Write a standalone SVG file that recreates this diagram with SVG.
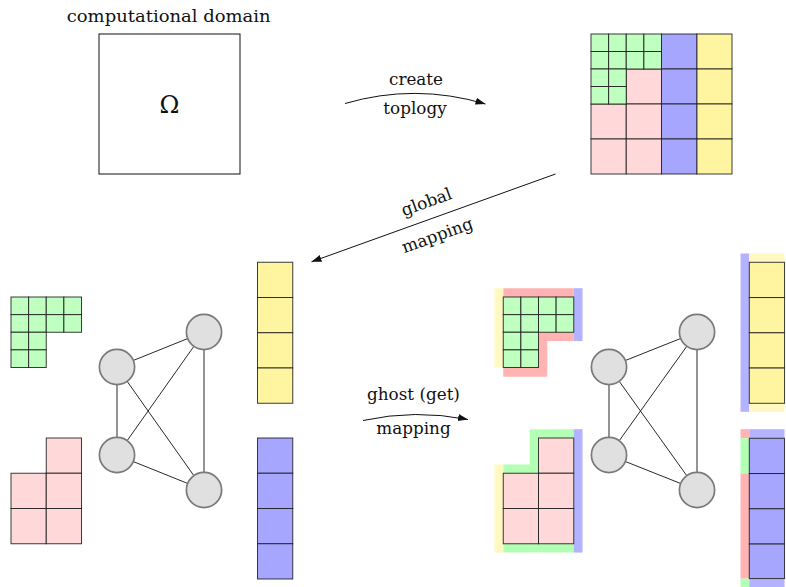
<svg xmlns="http://www.w3.org/2000/svg" width="786" height="587" viewBox="0 0 786 587">
<style>
text{font-family:"DejaVu Serif","Liberation Serif",serif;fill:#111;font-size:16.8px}
.c{stroke:#1a1a1a;stroke-width:1;stroke-opacity:0.85}
.g{fill:#bfffbf}.p{fill:#ffd9d9}.b{fill:#a6a6ff}.y{fill:#fff5a0}
.gr{fill:#ffb3b3}.gb{fill:#b3b3ff}.gy{fill:#fff8c2}.gg{fill:#b3ffb3}
.edge{stroke:#111;stroke-width:0.9;fill:none}
.node{fill:#e0e0e0;stroke:#7a7a7a;stroke-width:1.7}
.arr{stroke:#111;stroke-width:1;fill:none;marker-end:url(#ah)}
</style>
<defs>
<marker id="ah" markerUnits="userSpaceOnUse" markerWidth="11" markerHeight="8" refX="10" refY="3.5" orient="auto">
<path d="M0,0 L10,3.5 L0,7 Z" fill="#111"/>
</marker>
</defs>

<g id="domain">
<text x="168.7" y="21.5" text-anchor="middle" textLength="204" lengthAdjust="spacingAndGlyphs">computational domain</text>
<rect x="99" y="34" width="141" height="140" fill="#fff" stroke="#111" stroke-width="1"/>
<text x="169.5" y="113" text-anchor="middle" style="font-size:24px">Ω</text>
</g>

<g id="topology-grid">
<rect class="c y" x="696.75" y="34" width="35.25" height="35"/>
<rect class="c y" x="696.75" y="69" width="35.25" height="35"/>
<rect class="c y" x="696.75" y="104" width="35.25" height="35"/>
<rect class="c y" x="696.75" y="139" width="35.25" height="35"/>
<rect class="c b" x="661.5" y="34" width="35.25" height="35"/>
<rect class="c b" x="661.5" y="69" width="35.25" height="35"/>
<rect class="c b" x="661.5" y="104" width="35.25" height="35"/>
<rect class="c b" x="661.5" y="139" width="35.25" height="35"/>
<rect class="c p" x="626.25" y="69" width="35.25" height="35"/>
<rect class="c p" x="591" y="104" width="35.25" height="35"/>
<rect class="c p" x="626.25" y="104" width="35.25" height="35"/>
<rect class="c p" x="591" y="139" width="35.25" height="35"/>
<rect class="c p" x="626.25" y="139" width="35.25" height="35"/>
<rect class="c g" x="591" y="34" width="17.625" height="17.5"/>
<rect class="c g" x="608.625" y="34" width="17.625" height="17.5"/>
<rect class="c g" x="626.25" y="34" width="17.625" height="17.5"/>
<rect class="c g" x="643.875" y="34" width="17.625" height="17.5"/>
<rect class="c g" x="591" y="51.5" width="17.625" height="17.5"/>
<rect class="c g" x="608.625" y="51.5" width="17.625" height="17.5"/>
<rect class="c g" x="626.25" y="51.5" width="17.625" height="17.5"/>
<rect class="c g" x="643.875" y="51.5" width="17.625" height="17.5"/>
<rect class="c g" x="591" y="69" width="17.625" height="17.5"/>
<rect class="c g" x="608.625" y="69" width="17.625" height="17.5"/>
<rect class="c g" x="591" y="86.5" width="17.625" height="17.5"/>
<rect class="c g" x="608.625" y="86.5" width="17.625" height="17.5"/>
</g>

<g id="left-green">
<rect class="c g" x="11" y="297" width="17.625" height="17.625"/>
<rect class="c g" x="28.625" y="297" width="17.625" height="17.625"/>
<rect class="c g" x="46.25" y="297" width="17.625" height="17.625"/>
<rect class="c g" x="63.875" y="297" width="17.625" height="17.625"/>
<rect class="c g" x="11" y="314.625" width="17.625" height="17.625"/>
<rect class="c g" x="28.625" y="314.625" width="17.625" height="17.625"/>
<rect class="c g" x="46.25" y="314.625" width="17.625" height="17.625"/>
<rect class="c g" x="63.875" y="314.625" width="17.625" height="17.625"/>
<rect class="c g" x="11" y="332.25" width="17.625" height="17.625"/>
<rect class="c g" x="28.625" y="332.25" width="17.625" height="17.625"/>
<rect class="c g" x="11" y="349.875" width="17.625" height="17.625"/>
<rect class="c g" x="28.625" y="349.875" width="17.625" height="17.625"/>
</g>

<g id="left-pink">
<rect class="c p" x="46.25" y="438" width="35.25" height="35.25"/>
<rect class="c p" x="11" y="473.25" width="35.25" height="35.25"/>
<rect class="c p" x="46.25" y="473.25" width="35.25" height="35.25"/>
<rect class="c p" x="11" y="508.5" width="35.25" height="35.25"/>
<rect class="c p" x="46.25" y="508.5" width="35.25" height="35.25"/>
</g>

<g id="left-yellow">
<rect class="c y" x="257.5" y="262.25" width="35.25" height="35.25"/>
<rect class="c y" x="257.5" y="297.5" width="35.25" height="35.25"/>
<rect class="c y" x="257.5" y="332.75" width="35.25" height="35.25"/>
<rect class="c y" x="257.5" y="368" width="35.25" height="35.25"/>
</g>

<g id="left-blue">
<rect class="c b" x="257.5" y="438" width="35.25" height="35.25"/>
<rect class="c b" x="257.5" y="473.25" width="35.25" height="35.25"/>
<rect class="c b" x="257.5" y="508.5" width="35.25" height="35.25"/>
<rect class="c b" x="257.5" y="543.75" width="35.25" height="35.25"/>
</g>

<g id="connectors">
<path class="arr" d="M345,103.5 Q415,83 485.5,104"/>
<path class="arr" d="M555.5,174 L311.5,261.8"/>
<path class="arr" d="M363,420.5 Q415,409 468,419.5"/>
<g id="graph-left-edges">
<path class="edge" d="M117,367 L204,332 M117,367 L204,490 M117,367 L117,455 M117,455 L204,332 M117,455 L204,490 M204,332 L204,490"/>
</g>
<g id="graph-right-edges">
<path class="edge" d="M609,367 L697,332 M609,367 L697,490 M609,367 L609,455 M609,455 L697,332 M609,455 L697,490 M697,332 L697,490"/>
</g>
</g>

<g id="labels">
<text x="416" y="85" text-anchor="middle">create</text>
<text x="415" y="114" text-anchor="middle">toplogy</text>
<text x="428.4" y="207.3" text-anchor="middle" transform="rotate(-19.8 428.4 207.3)">global</text>
<text x="439.2" y="240.7" text-anchor="middle" transform="rotate(-19.8 439.2 240.7)">mapping</text>
<text x="413.5" y="400" text-anchor="middle">ghost (get)</text>
<text x="413.5" y="434" text-anchor="middle">mapping</text>
</g>

<g id="node-l1"><circle class="node" cx="117" cy="367" r="17.6"/></g>
<g id="node-l2"><circle class="node" cx="204" cy="332" r="17.6"/></g>
<g id="node-l3"><circle class="node" cx="117" cy="455" r="17.6"/></g>
<g id="node-l4"><circle class="node" cx="204" cy="490" r="17.6"/></g>
<g id="node-r1"><circle class="node" cx="609" cy="367" r="17.6"/></g>
<g id="node-r2"><circle class="node" cx="697" cy="332" r="17.6"/></g>
<g id="node-r3"><circle class="node" cx="609" cy="455" r="17.6"/></g>
<g id="node-r4"><circle class="node" cx="697" cy="490" r="17.6"/></g>

<g id="right-green">
<path class="gr" d="M503.25,288.2 H573.75 V341.1 H547.3 V376.8 H503.25 Z"/>
<rect class="gb" x="573.75" y="288.2" width="8.8" height="52.9"/>
<rect class="gy" x="494.45" y="288.2" width="8.8" height="79.3"/>
<rect class="c g" x="503.25" y="297" width="17.625" height="17.625"/>
<rect class="c g" x="520.875" y="297" width="17.625" height="17.625"/>
<rect class="c g" x="538.5" y="297" width="17.625" height="17.625"/>
<rect class="c g" x="556.125" y="297" width="17.625" height="17.625"/>
<rect class="c g" x="503.25" y="314.625" width="17.625" height="17.625"/>
<rect class="c g" x="520.875" y="314.625" width="17.625" height="17.625"/>
<rect class="c g" x="538.5" y="314.625" width="17.625" height="17.625"/>
<rect class="c g" x="556.125" y="314.625" width="17.625" height="17.625"/>
<rect class="c g" x="503.25" y="332.25" width="17.625" height="17.625"/>
<rect class="c g" x="520.875" y="332.25" width="17.625" height="17.625"/>
<rect class="c g" x="503.25" y="349.875" width="17.625" height="17.625"/>
<rect class="c g" x="520.875" y="349.875" width="17.625" height="17.625"/>
</g>

<g id="right-pink">
<path class="gg" d="M529.7,429.2 H573.75 V552.6 H503.25 V464.45 H529.7 Z"/>
<rect class="gb" x="573.75" y="429.2" width="8.8" height="123.4"/>
<rect class="gy" x="494.45" y="464.45" width="8.8" height="88.15"/>
<rect class="c p" x="538.5" y="438" width="35.25" height="35.25"/>
<rect class="c p" x="503.25" y="473.25" width="35.25" height="35.25"/>
<rect class="c p" x="538.5" y="473.25" width="35.25" height="35.25"/>
<rect class="c p" x="503.25" y="508.5" width="35.25" height="35.25"/>
<rect class="c p" x="538.5" y="508.5" width="35.25" height="35.25"/>
</g>

<g id="right-yellow">
<rect class="gb" x="740.5" y="253.5" width="8.8" height="158.3"/>
<rect class="gy" x="749.3" y="253.5" width="35.25" height="8.8"/>
<rect class="gy" x="749.3" y="403.3" width="35.25" height="8.5"/>
<rect class="c y" x="749.3" y="262.3" width="35.25" height="35.25"/>
<rect class="c y" x="749.3" y="297.55" width="35.25" height="35.25"/>
<rect class="c y" x="749.3" y="332.8" width="35.25" height="35.25"/>
<rect class="c y" x="749.3" y="368.05" width="35.25" height="35.25"/>
</g>

<g id="right-blue">
<rect class="gr" x="740.5" y="429.2" width="8.8" height="9.1"/>
<rect class="gg" x="740.5" y="438.3" width="8.8" height="35.25"/>
<rect class="gr" x="740.5" y="473.55" width="8.8" height="105"/>
<rect class="gg" x="740.5" y="578.55" width="8.8" height="8.8"/>
<rect class="gb" x="749.3" y="429.2" width="35.25" height="9.1"/>
<rect class="gb" x="749.3" y="578.55" width="35.25" height="8.8"/>
<rect class="c b" x="749.3" y="438.3" width="35.25" height="35.25"/>
<rect class="c b" x="749.3" y="473.55" width="35.25" height="35.25"/>
<rect class="c b" x="749.3" y="508.8" width="35.25" height="35.25"/>
<rect class="c b" x="749.3" y="544.05" width="35.25" height="34.5"/>
</g>
</svg>
